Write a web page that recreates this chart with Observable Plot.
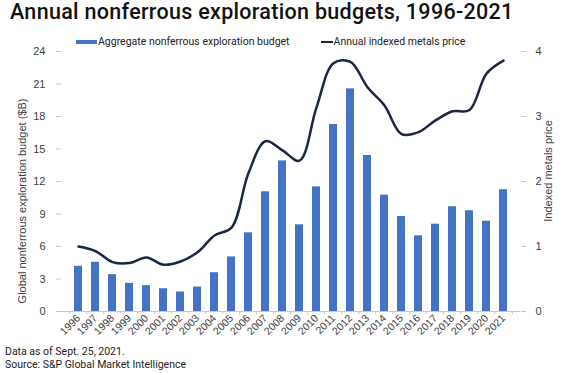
<!DOCTYPE html>
<html><head><meta charset="utf-8">
<script src="https://cdn.jsdelivr.net/npm/d3@7"></script>
<script src="https://cdn.jsdelivr.net/npm/@observablehq/plot@0.6"></script>
<style>
body{margin:0;background:#fff;}
#c{position:relative;width:567px;height:373px;overflow:hidden;font-family:"Liberation Sans",Arial,sans-serif;color:#404040;}
#title{position:absolute;left:10px;top:-1px;font-family:Roboto,sans-serif;font-weight:500;font-size:21.5px;letter-spacing:0.3px;color:#111;white-space:nowrap;line-height:26px;}
#legend{position:absolute;left:76px;top:34px;font-family:Roboto,sans-serif;font-size:10.5px;color:#222;white-space:nowrap;display:flex;align-items:center;line-height:16px;}
.sw{display:inline-block;}
#chart{position:absolute;left:0;top:36px;}
.ylab{position:absolute;font-size:11px;white-space:nowrap;color:#404040;transform-origin:center center;}
#foot{position:absolute;left:5px;top:345px;font-family:Roboto,sans-serif;font-size:10.5px;color:#222;line-height:13px;white-space:nowrap;}
</style></head><body>
<div id="c">
  <div id="title">Annual nonferrous exploration budgets, 1996-2021</div>
  <div id="legend">
    <span class="sw" style="width:21px;height:4px;background:#4472c4;"></span><span style="margin-left:1px;">Aggregate nonferrous exploration budget</span>
    <span class="sw" style="width:12px;height:2px;background:#1a2744;margin-left:31px;"></span><span style="margin-left:1px;">Annual indexed metals price</span>
  </div>
  <div id="chart"></div>
  <div class="ylab" id="yl">Global nonferrous exploration budget ($B)</div>
  <div class="ylab" id="yr">Indexed metals price</div>
  <div id="foot">Data as of Sept. 25, 2021.<br>Source: S&amp;P Global Market Intelligence</div>
</div>
<script>
const years = [1996,1997,1998,1999,2000,2001,2002,2003,2004,2005,2006,2007,2008,2009,2010,2011,2012,2013,2014,2015,2016,2017,2018,2019,2020,2021];
const budget = [4.17,4.54,3.4,2.6,2.38,2.1,1.8,2.26,3.58,5.04,7.26,11.05,13.9,8.0,11.5,17.26,20.55,14.4,10.74,8.77,6.98,8.06,9.67,9.3,8.33,11.24];
const metalsPrice = [1.0,0.93,0.76,0.745,0.83,0.72,0.77,0.91,1.17,1.29,2.13,2.62,2.48,2.32,3.14,3.82,3.84,3.45,3.17,2.73,2.76,2.94,3.08,3.1,3.66,3.86];
const leftTicks = [0,3,6,9,12,15,18,21,24];
const rightTicks = [0,1,2,3,4];
const ratio = 6;

const data = years.map((y,i)=>({year:String(y), budget:budget[i], price:metalsPrice[i]}));
const lastYear = [data[data.length-1]];

const plot = Plot.plot({
  width:567, height:313,
  marginTop:15, marginBottom:38, marginLeft:61, marginRight:47,
  style:{fontFamily:"'Liberation Sans', Arial, sans-serif", fontSize:"11px", color:"#404040", background:"transparent"},
  x:{type:"band", domain:years.map(String), paddingInner:0.52, paddingOuter:0.26, label:null},
  y:{domain:[0,24], label:null},
  marks:[
    Plot.barY(data,{x:"year", y:"budget", fill:"#4472c4"}),
    Plot.line(data,{x:"year", y:d=>d.price*ratio, stroke:"#1a2744", strokeWidth:2.5, curve:"catmull-rom"}),
    Plot.ruleY([0],{stroke:"#c8c8c8"}),
    Plot.ruleX(data,{x:"year", y1:0, y2:-0.3, dx:-8.8, stroke:"#c8c8c8"}),
    Plot.ruleX(lastYear,{x:"year", y1:0, y2:-0.3, dx:8.8, stroke:"#c8c8c8"}),
    Plot.axisY({anchor:"left", ticks:leftTicks, tickSize:5, tickPadding:11, label:null, stroke:"#c8c8c8", line:true}),
    Plot.axisY({anchor:"right", ticks:rightTicks.map(v=>v*ratio), tickFormat:d=>String(d/ratio), tickSize:5, tickPadding:10, label:null, stroke:"#c8c8c8", line:true}),
    Plot.axisX({anchor:"bottom", tickRotate:-45, tickSize:0, tickPadding:5, fontSize:10.5, label:null})
  ]
});
document.getElementById("chart").appendChild(plot);

function placeRot(el, cx, cy){
  const w = el.offsetWidth, h = el.offsetHeight;
  el.style.left = (cx - w/2) + "px";
  el.style.top = (cy - h/2) + "px";
  el.style.transform = "rotate(-90deg)";
}
placeRot(document.getElementById("yl"), 22, 201);
placeRot(document.getElementById("yr"), 548, 171);
</script>
</body></html>
